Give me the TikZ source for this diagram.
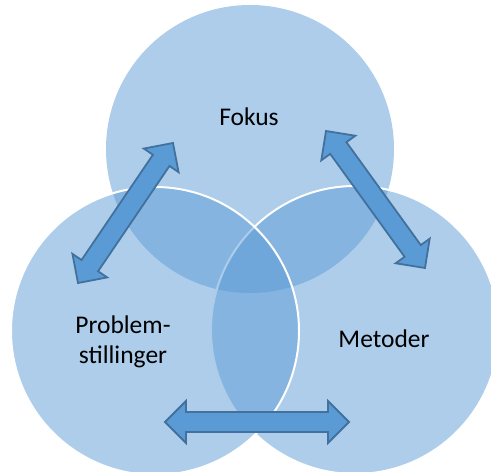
\documentclass[tikz,border=0pt]{standalone}
\usepackage{fontspec}
\setmainfont{Carlito}
\definecolor{vennblue}{HTML}{5B9BD5}
\definecolor{arrowfill}{HTML}{5B9BD5}
\definecolor{arrowline}{HTML}{41719C}
\newcommand{\blockarrow}[3]{%
  \begin{scope}[shift={#1}, rotate=#2]
    \draw[barrow] (-#3,0) -- (-#3+21,21) -- (-#3+21,10) -- (#3-21,10) -- (#3-21,21) -- (#3,0)
      -- (#3-21,-21) -- (#3-21,-10) -- (-#3+21,-10) -- (-#3+21,-21) -- cycle;
  \end{scope}}
\begin{document}
\begin{tikzpicture}[x=1bp,y=-1bp,
  venn/.style={circle, inner sep=0pt, minimum size=288bp, fill=vennblue, fill opacity=0.5},
  vennline/.style={draw=white, line width=2bp},
  barrow/.style={fill=arrowfill, draw=arrowline, line width=1.8bp, line join=miter},
  lbl/.style={font=\fontsize{25.5bp}{30bp}\selectfont, text=black, inner sep=0pt}]
\useasboundingbox (0,0) rectangle (491,472);
\node[venn] (fokus) at (250,149) {};
\node[venn, vennline] (metoder) at (355,330) {};
\node[venn, vennline] (problem) at (155,331) {};
% double block arrows between the circles
\blockarrow{(125.5,213)}{55.85}{84.6}
\blockarrow{(375.5,199.5)}{-54.15}{84.5}
\blockarrow{(257,422)}{0}{92}
\node[lbl, anchor=base] (tfokus) at (249,126) {Fokus};
\node[lbl, anchor=base, align=center] (tproblem) at (123,363) {Problem-\\stillinger};
\node[lbl, anchor=base] (tmetoder) at (384,347) {Metoder};
\end{tikzpicture}
\end{document}
